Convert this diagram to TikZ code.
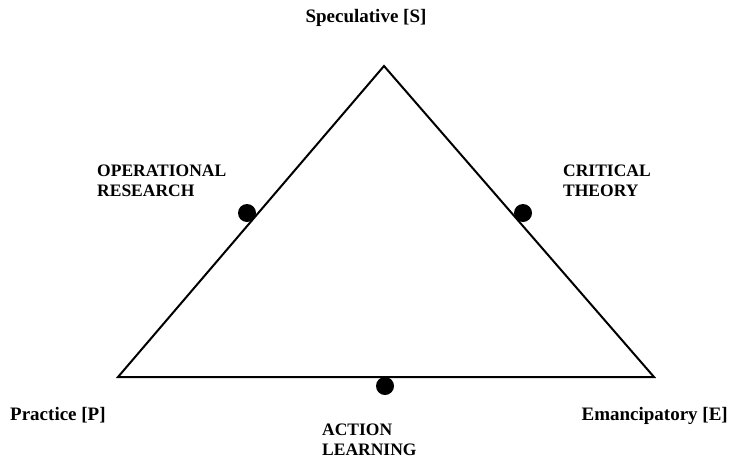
\documentclass[tikz,border=0pt]{standalone}
\usepackage{fontspec}
\setmainfont{Liberation Serif}
\usetikzlibrary{positioning}

\begin{document}
\begin{tikzpicture}
[
	x = 1pt, y = -1pt,
	Pole/.style		= {font = \fontsize{19}{22}\selectfont\bfseries, inner sep = 0pt},
	Approach/.style	= {font = \fontsize{17.5}{20}\selectfont\bfseries, inner sep = 0pt, align = left, anchor = base west},
	Dot/.style		= {circle, fill = black, inner sep = 0pt, minimum size = 18pt},
	Edge/.style		= {line width = 2pt, line join = miter},
]

	\useasboundingbox (0,0) rectangle (730,458);

	% corners of the triangle
	\coordinate (S) at (384,66);
	\coordinate (P) at (118,377);
	\coordinate (E) at (654,377);

	\draw [Edge] (S) -- (P) -- (E) -- cycle;

	% poles
	\node (labS) [Pole, anchor = base] at (366,22) {Speculative [S]};
	\node (labP) [Pole, anchor = base west] at (10,420) {Practice [P]};
	\node (labE) [Pole, anchor = base east] at (728,420) {Emancipatory [E]};

	% approaches on the sides (base = last line)
	\node (dotOR) [Dot] at (247,213) {};
	\node (dotCT) [Dot] at (523,213) {};
	\node (dotAL) [Dot] at (385,386) {};
	%
	\node (labOR) [Approach] at (97,196) {OPERATIONAL \\ RESEARCH};
	\node (labCT) [Approach] at (563,196) {CRITICAL \\ THEORY};
	\node (labAL) [Approach] at (322,455) {ACTION \\ LEARNING};

\end{tikzpicture}
\end{document}
